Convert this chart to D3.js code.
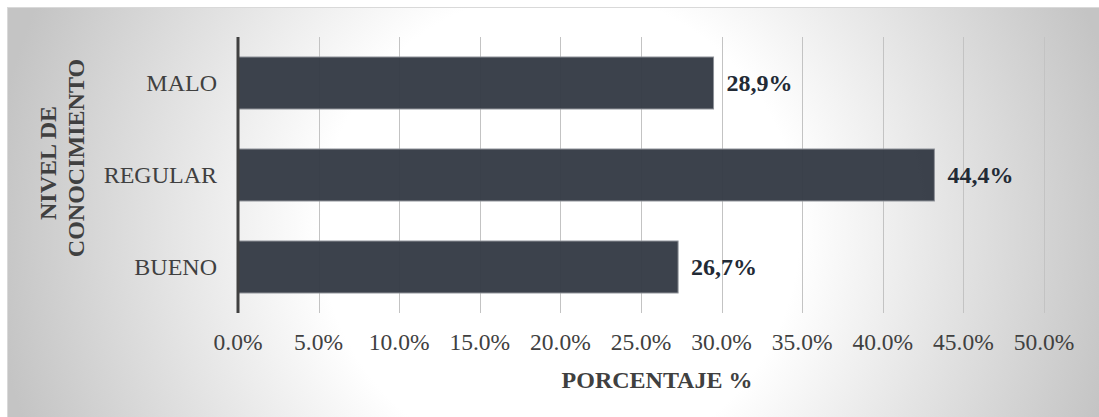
<!DOCTYPE html>
<html>
<head>
<meta charset="utf-8">
<script src="https://cdn.jsdelivr.net/npm/d3@7"></script>
<style>
  body { margin: 0; background: #fff; }
  svg { display: block; }
  text { font-family: "Liberation Serif", "Times New Roman", serif; }
</style>
</head>
<body>
<div id="chart"></div>
<script>
// data
var categories = ["MALO", "REGULAR", "BUENO"];
var barValues = [29.5, 43.2, 27.3];          // bar lengths as drawn
var valueLabels = ["28,9%", "44,4%", "26,7%"]; // labels as printed
var xTicks = [0, 5, 10, 15, 20, 25, 30, 35, 40, 45, 50];
var yTitle = ["NIVEL DE", "CONOCIMIENTO"];
var xTitle = "PORCENTAJE %";

var W = 1099, H = 417;
var plot = {left: 238, right: 1044, top: 37, bottom: 313};

var svg = d3.select("#chart")
  .append("svg")
    .attr("width", W)
    .attr("height", H);

// background gradient
var defs = svg.append("defs");
var grad = defs.append("radialGradient")
    .attr("id", "bg")
    .attr("gradientUnits", "userSpaceOnUse")
    .attr("cx", 560).attr("cy", 230).attr("r", 570);
grad.append("stop").attr("offset", "0").attr("stop-color", "#ffffff");
grad.append("stop").attr("offset", "0.42").attr("stop-color", "#ffffff");
grad.append("stop").attr("offset", "1").attr("stop-color", "#c4c4c4");

svg.append("rect")
    .attr("x", 7.5).attr("y", 7.5)
    .attr("width", W - 7).attr("height", H - 7)
    .attr("fill", "url(#bg)")
    .attr("stroke", "#d9d9d9")
    .attr("stroke-width", 1);

var x = d3.scaleLinear()
    .domain([0, 50])
    .range([plot.left, plot.right]);

var y = d3.scaleBand()
    .domain(categories)
    .range([plot.top, plot.bottom])
    .paddingInner(0.435)
    .paddingOuter(0.2175);

// gridlines
svg.append("g")
  .selectAll("line")
  .data(xTicks.slice(1))
  .enter()
  .append("line")
    .attr("x1", function(d) { return Math.round(x(d)) + 0.5; })
    .attr("x2", function(d) { return Math.round(x(d)) + 0.5; })
    .attr("y1", plot.top)
    .attr("y2", plot.bottom)
    .attr("stroke", "#c3c3c3")
    .attr("stroke-width", 1);

// x tick labels
svg.append("g")
  .selectAll("text")
  .data(xTicks)
  .enter()
  .append("text")
    .attr("x", function(d) { return x(d); })
    .attr("y", 350)
    .attr("text-anchor", "middle")
    .attr("font-size", 23.5)
    .attr("fill", "#404040")
    .text(function(d) { return d3.format(".1f")(d) + "%"; });

// bars
svg.append("g")
  .selectAll("rect")
  .data(categories)
  .enter()
  .append("rect")
    .attr("x", x(0))
    .attr("y", function(d) { return y(d); })
    .attr("width", function(d, i) { return x(barValues[i]) - x(0); })
    .attr("height", y.bandwidth())
    .attr("fill", "#343a45")
    .attr("fill-opacity", 0.96)
    .attr("stroke", "#8d9198")
    .attr("stroke-width", 1);

// value labels
svg.append("g")
  .selectAll("text")
  .data(categories)
  .enter()
  .append("text")
    .attr("x", function(d, i) { return x(barValues[i]) + 13; })
    .attr("y", function(d) { return y(d) + y.bandwidth() / 2 + 8; })
    .attr("font-size", 24)
    .attr("font-weight", "bold")
    .attr("fill", "#222a35")
    .text(function(d, i) { return valueLabels[i]; });

// y axis line
svg.append("line")
    .attr("x1", plot.left).attr("x2", plot.left)
    .attr("y1", plot.top).attr("y2", plot.bottom)
    .attr("stroke", "#404040")
    .attr("stroke-width", 3);

// category labels
svg.append("g")
  .selectAll("text")
  .data(categories)
  .enter()
  .append("text")
    .attr("x", 217)
    .attr("y", function(d) { return y(d) + y.bandwidth() / 2 + 8; })
    .attr("text-anchor", "end")
    .attr("font-size", 24)
    .attr("fill", "#404040")
    .text(function(d) { return d; });

// axis titles
svg.append("text")
    .attr("x", 657)
    .attr("y", 388)
    .attr("text-anchor", "middle")
    .attr("font-size", 24)
    .attr("font-weight", "bold")
    .attr("fill", "#404040")
    .text(xTitle);

var yCenters = [[56, 163], [84, 158]];
svg.append("g")
  .selectAll("text")
  .data(yTitle)
  .enter()
  .append("text")
    .attr("transform", function(d, i) {
      return "translate(" + yCenters[i][0] + "," + yCenters[i][1] + ") rotate(-90)";
    })
    .attr("text-anchor", "middle")
    .attr("font-size", 24)
    .attr("font-weight", "bold")
    .attr("fill", "#404040")
    .text(function(d) { return d; });
</script>
</body>
</html>
